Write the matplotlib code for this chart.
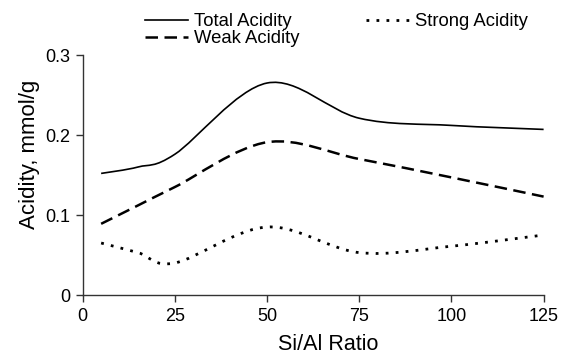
import numpy as np
import matplotlib
matplotlib.use("Agg")
import matplotlib.pyplot as plt
from matplotlib.path import Path
from matplotlib.patches import PathPatch
from matplotlib.lines import Line2D

# Data
si_al = [5, 15, 25, 50, 75, 100, 125]
total_acidity = [0.152, 0.160, 0.176, 0.265, 0.221, 0.212, 0.207]
weak_acidity = [0.089, 0.112, 0.135, 0.191, 0.170, 0.147, 0.123]
strong_acidity = [0.065, 0.053, 0.040, 0.085, 0.053, 0.061, 0.075]

x_ticks = [0, 25, 50, 75, 100, 125]
y_ticks = [0, 0.1, 0.2, 0.3]
y_ticklabels = ["0", "0.1", "0.2", "0.3"]

plt.rcParams['font.family'] = ['Liberation Sans', 'DejaVu Sans']

fig = plt.figure(figsize=(5.61, 3.55), dpi=100)
ax = fig.add_axes([0.1474, 0.169, 0.8216, 0.676])


def smooth_path(xs, ys):
    """Excel-like smoothed line: cubic Bezier segments through the points."""
    pts = np.column_stack([xs, ys]).astype(float)
    n = len(pts)
    verts = [tuple(pts[0])]
    codes = [Path.MOVETO]
    for i in range(n - 1):
        p0 = pts[i - 1] if i > 0 else pts[i]
        p1 = pts[i]
        p2 = pts[i + 1]
        p3 = pts[i + 2] if i + 2 < n else pts[i + 1]
        c1 = p1 + (p2 - p0) / 6.0
        c2 = p2 - (p3 - p1) / 6.0
        verts += [tuple(c1), tuple(c2), tuple(p2)]
        codes += [Path.CURVE4] * 3
    return Path(verts, codes)


styles = [
    (total_acidity, dict(linestyle='-', linewidth=1.2), "Total Acidity"),
    (weak_acidity, dict(linestyle=(0, (5.0, 2.6)), linewidth=1.8), "Weak Acidity"),
    (strong_acidity, dict(linestyle=(0, (1.0, 2.6)), linewidth=2.0), "Strong Acidity"),
]
handles = {}
for ys, st, lab in styles:
    patch = PathPatch(smooth_path(si_al, ys), facecolor='none', edgecolor='black',
                      capstyle='butt', **st)
    ax.add_patch(patch)
    handles[lab] = Line2D([], [], color='black', **st)

ax.set_xlim(0, 125)
ax.set_ylim(0, 0.3)
ax.set_xticks(x_ticks)
ax.set_xticklabels([str(t) for t in x_ticks])
ax.set_yticks(y_ticks)
ax.set_yticklabels(y_ticklabels)
for s in ['top', 'right']:
    ax.spines[s].set_visible(False)
for s in ['left', 'bottom']:
    ax.spines[s].set_linewidth(1.0)
    ax.spines[s].set_color('#333333')
ax.tick_params(direction='out', length=5, width=1.0, color='#333333',
               labelsize=13, pad=4)
ax.set_xlabel("Si/Al Ratio", fontsize=15.5)
ax.set_ylabel("Acidity, mmol/g", fontsize=16)
ax.xaxis.set_label_coords(0.532, -0.164)
ax.yaxis.set_label_coords(-0.093, 0.5875)

order = ["Total Acidity", "Weak Acidity", "Strong Acidity"]
leg = fig.legend([handles[k] for k in order], order, ncol=2, frameon=False,
                 loc='upper left', bbox_to_anchor=(0.259, 0.962), fontsize=13.3,
                 handlelength=2.3, handletextpad=0.35, columnspacing=3.6,
                 labelspacing=0.0, borderpad=0.0, borderaxespad=0.0)

fig.savefig("out.png", dpi=100)
